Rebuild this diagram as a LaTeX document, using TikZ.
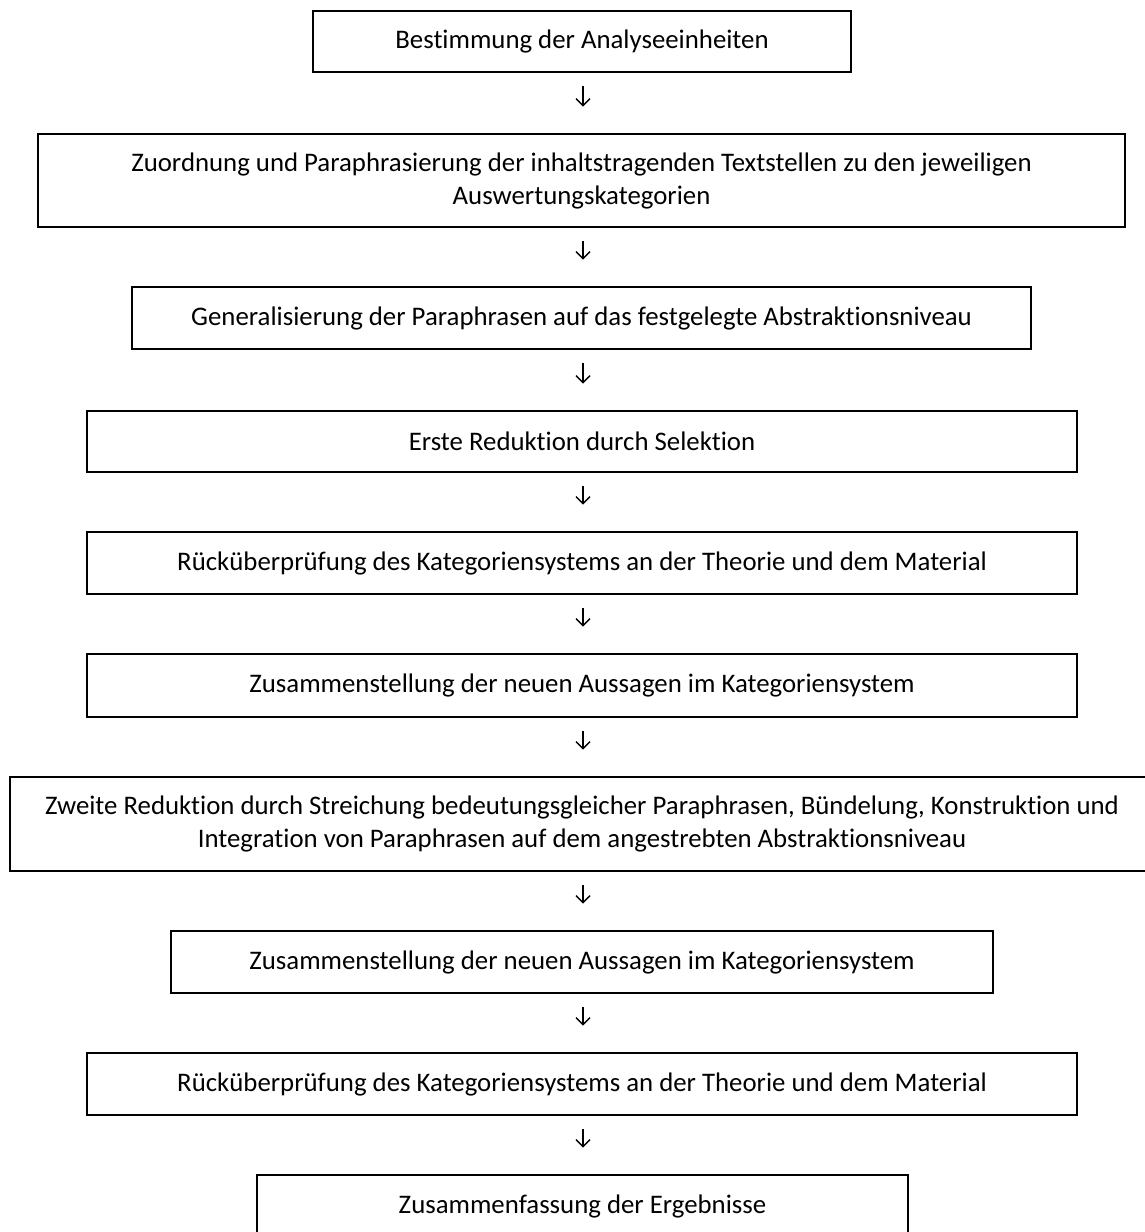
\documentclass[tikz,border=0pt]{standalone}
\usepackage{fontspec}
\setmainfont{Carlito}[Ligatures={NoCommon}]
\usetikzlibrary{arrows.meta}
\begin{document}
\begin{tikzpicture}[x=1pt,y=1pt,
  stepbox/.style={draw=black, line width=2.6pt, inner sep=0pt, align=center,
    font=\fontsize{26.8}{33}\selectfont},
  arr/.style={-{Straight Barb[length=7pt,width=14pt]}, line width=1.4pt,
    shorten <=13pt, shorten >=26pt}]
\useasboundingbox (0,0) rectangle (1145,-1232);
\fill[white] (0,0) rectangle (1145,-1232);
\clip (0,0) rectangle (1145,-1232);
\coordinate (ax) at (583,0);
\node[stepbox, minimum width=538pt, minimum height=61pt] (b1) at (582,-41.5) {Bestimmung der Analyseeinheiten};
\node[stepbox, minimum width=1087pt, minimum height=93pt] (b2) at (581.5,-180.5) {Zuordnung und Paraphrasierung der inhaltstragenden Textstellen zu den jeweiligen\\Auswertungskategorien};
\node[stepbox, minimum width=899pt, minimum height=62pt] (b3) at (581.5,-318) {Generalisierung der Paraphrasen auf das festgelegte Abstraktionsniveau};
\node[stepbox, minimum width=990pt, minimum height=61pt] (b4) at (582,-441.5) {Erste Reduktion durch Selektion};
\node[stepbox, minimum width=990pt, minimum height=62pt] (b5) at (582,-563) {Rücküberprüfung des Kategoriensystems an der Theorie und dem Material};
\node[stepbox, minimum width=990pt, minimum height=63pt] (b6) at (582,-685.5) {Zusammenstellung der neuen Aussagen im Kategoriensystem};
\node[stepbox, minimum width=1144pt, minimum height=94pt] (b7) at (582,-824) {Zweite Reduktion durch Streichung bedeutungsgleicher Paraphrasen, Bündelung, Konstruktion und\\Integration von Paraphrasen auf dem angestrebten Abstraktionsniveau};
\node[stepbox, minimum width=822pt, minimum height=62pt] (b8) at (582,-962) {Zusammenstellung der neuen Aussagen im Kategoriensystem};
\node[stepbox, minimum width=990pt, minimum height=62pt] (b9) at (582,-1084) {Rücküberprüfung des Kategoriensystems an der Theorie und dem Material};
\node[stepbox, minimum width=651pt, minimum height=62pt] (b10) at (582.5,-1206) {Zusammenfassung der Ergebnisse};
\draw[arr] (b1.south -| ax) -- (b2.north -| ax);
\draw[arr] (b2.south -| ax) -- (b3.north -| ax);
\draw[arr] (b3.south -| ax) -- (b4.north -| ax);
\draw[arr] (b4.south -| ax) -- (b5.north -| ax);
\draw[arr] (b5.south -| ax) -- (b6.north -| ax);
\draw[arr] (b6.south -| ax) -- (b7.north -| ax);
\draw[arr] (b7.south -| ax) -- (b8.north -| ax);
\draw[arr] (b8.south -| ax) -- (b9.north -| ax);
\draw[arr] (b9.south -| ax) -- (b10.north -| ax);
\end{tikzpicture}
\end{document}
